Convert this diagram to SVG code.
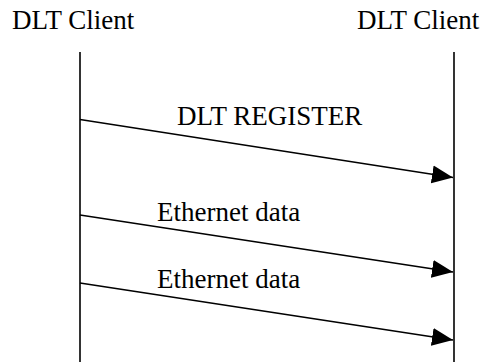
<svg xmlns="http://www.w3.org/2000/svg" width="483" height="363" viewBox="0 0 483 363">
<style>
text{font-family:"Liberation Serif","Times New Roman",serif;font-size:27px;fill:#000}
.life{stroke:#000;stroke-width:1.6;fill:none}
.msg{stroke:#000;stroke-width:1.5;fill:none;marker-end:url(#ah)}
</style>
<defs>
<marker id="ah" markerUnits="userSpaceOnUse" markerWidth="22" markerHeight="20" refX="21" refY="9" orient="auto" viewBox="0 0 22 18">
<path d="M0,0 L21,9 L0,18 Z" fill="#000"/>
</marker>
</defs>
<rect width="483" height="363" fill="#fff"/>
<g id="client-left">
<text x="12" y="29">DLT Client</text>
<line class="life" x1="80" y1="52" x2="80" y2="362"/>
</g>
<g id="client-right">
<text x="357" y="29">DLT Client</text>
<line class="life" x1="454" y1="52" x2="454" y2="362"/>
</g>
<g id="connectors">
<line class="msg" x1="80" y1="119.5" x2="453" y2="177.5"/>
<text x="177" y="125">DLT REGISTER</text>
<line class="msg" x1="80" y1="215" x2="453" y2="272"/>
<text x="157" y="221">Ethernet data</text>
<line class="msg" x1="80" y1="283" x2="453" y2="340"/>
<text x="157" y="288">Ethernet data</text>
</g>
</svg>
